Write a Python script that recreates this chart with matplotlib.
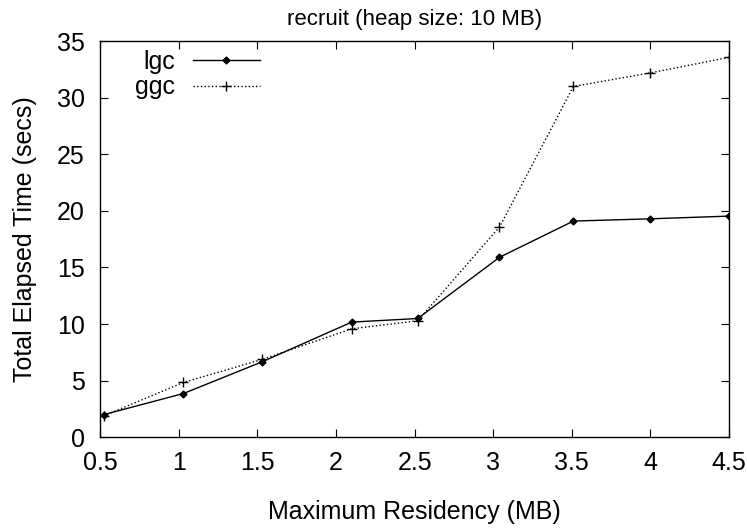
import matplotlib
matplotlib.use("Agg")
import matplotlib.pyplot as plt

plt.rcParams['font.family'] = ['Liberation Sans', 'DejaVu Sans']

# values
residency = [0.525, 1.03, 1.53, 2.10, 2.52, 3.04, 3.51, 4.0, 4.5]
lgc = [2.0, 3.86, 6.66, 10.17, 10.49, 15.9, 19.1, 19.3, 19.54]
ggc = [1.9, 4.84, 6.87, 9.58, 10.29, 18.57, 31.0, 32.2, 33.57]
xticks = [0.5, 1, 1.5, 2, 2.5, 3, 3.5, 4, 4.5]
yticks = [0, 5, 10, 15, 20, 25, 30, 35]

fig = plt.figure(figsize=(7.47, 5.28), dpi=100)
ax = fig.add_axes([0.134, 0.172, 0.842, 0.750])

ax.plot(residency, lgc, color='black', lw=1, marker='D', ms=3.5, label='lgc')
ax.plot(residency, ggc, color='black', lw=1, ls=':', marker='+', ms=7, mew=1, label='ggc')

ax.set_xlim(0.5, 4.5)
ax.set_ylim(0, 35)
ax.set_xticks(xticks)
ax.set_xticklabels([str(t) for t in xticks])
ax.set_yticks(yticks)
ax.tick_params(direction='in', top=True, right=True, length=6, labelsize=18)
ax.tick_params(axis='y', pad=11)
ax.tick_params(axis='x', pad=10)
for s in ax.spines.values():
    s.set_linewidth(1)

ax.set_title('recruit (heap size: 10 MB)', fontsize=16, pad=12)
ax.set_xlabel('Maximum Residency (MB)', fontsize=18, labelpad=18)
ax.set_ylabel('Total Elapsed Time (secs)', fontsize=18, labelpad=14)

ax.legend(loc='upper left', bbox_to_anchor=(0.032, 1.015), frameon=False, markerfirst=False,
          fontsize=18, handlelength=2.7, handletextpad=0.7, labelspacing=0.05,
          borderaxespad=0.2)

fig.savefig('out.png', dpi=100)
